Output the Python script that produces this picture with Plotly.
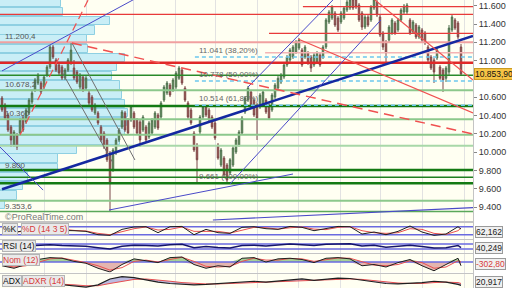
import numpy as np
import plotly.graph_objects as go

# ---------------- price data (daily candles, x = trading-day index) ----------------
opens = [10592,10516,10407,10276,10079,10189,10210,10374,10331,10429,10549,10680,10756,10756,10712,10843,10931,11149,11007,10953,
         10931,10811,10898,10974,10920,10876,10712,10822,10701,10647,10603,10429,10429,10276,10210,10134,9992,9806,9992,10134,
         10276,10429,10352,10352,10429,10352,10331,10243,10276,10167,10210,10276,10407,10385,10570,10647,10734,10680,10712,10808,
         10898,10701,10538,10461,10210,10079,10221,10385,10494,10461,10385,10320,10079,9861,9937,9861,9774,9861,10003,10079,
         10210,10440,10570,10658,10570,10516,10494,10516,10570,10516,10461,10603,10701,10767,10822,10953,11007,11040,11094,11138,
         11116,11040,11084,11040,10953,10985,11062,11040,11149,11422,11465,11520,11465,11422,11465,11553,11575,11662,11662,11607,
         11520,11367,11476,11444,11575,11640,11476,11302,11204,11225,11302,11411,11335,11444,11531,11531,11444,11313,11389,11258,
         11335,11302,11149,11040,11007,11029,10931,10898,10808,10876,11335,11444,11411,11149]
highs = [10614,10538,10429,10298,10243,10210,10374,10396,10483,10592,10669,10811,10865,10778,10843,10953,11171,11171,11029,10974,
         10953,10920,11029,11193,11007,10898,10865,10843,10832,10669,10625,10538,10450,10298,10232,10156,10014,10047,10156,10265,
         10461,10450,10374,10516,10450,10374,10352,10407,10298,10341,10374,10450,10429,10560,10734,10778,10756,10811,10887,10942,
         10920,10723,10560,10483,10232,10101,10407,10516,10516,10483,10407,10341,10101,10047,9959,9883,9937,10069,10156,10243,
         10396,10614,10723,10680,10592,10538,10647,10680,10592,10538,10647,10756,10832,10865,10974,11062,11138,11171,11225,11247,
         11138,11171,11105,11062,11084,11105,11084,11171,11465,11553,11607,11542,11487,11542,11596,11670,11700,11700,11690,11629,
         11542,11498,11498,11607,11720,11690,11498,11324,11225,11389,11465,11433,11465,11575,11618,11629,11465,11444,11411,11389,
         11356,11324,11171,11062,11029,11138,10953,10920,10942,11389,11498,11465,11433,11182]
lows = [10440,10352,10221,10058,10058,10025,10189,10221,10309,10407,10527,10658,10734,10636,10690,10822,10909,11018,10876,10843,
        10789,10789,10876,10953,10789,10745,10690,10658,10680,10516,10440,10407,10298,10112,10036,9894,9354,9785,9970,10112,
        10254,10221,10189,10331,10254,10189,10058,10221,10112,10145,10189,10254,10243,10363,10549,10625,10603,10658,10690,10789,
        10734,10549,10363,10298,10003,9675,10199,10363,10385,10331,10254,10134,9918,9839,9730,9661,9752,9839,9981,10058,
        10189,10418,10549,10494,10385,10134,10472,10494,10418,10352,10440,10581,10680,10745,10800,10931,10985,11018,11073,11116,
        10931,11018,10953,10876,10931,10963,10931,11018,11127,11400,11444,11367,11313,11400,11444,11531,11553,11553,11564,11422,
        11335,11345,11367,11422,11553,11476,11258,11116,10985,11204,11280,11280,11313,11422,11509,11509,11280,11291,11236,11236,
        11204,11171,10985,10898,10756,11007,10789,10658,10767,10843,11313,11335,11236,10843]
closes = [10461,10374,10243,10134,10221,10058,10352,10243,10461,10570,10647,10789,10843,10658,10822,10931,11149,11040,10898,10865,
          10811,10898,11007,11116,10811,10767,10843,10680,10811,10538,10461,10516,10320,10134,10058,9918,9675,10025,10134,10243,
          10440,10243,10210,10494,10276,10210,10134,10385,10134,10320,10352,10429,10265,10538,10712,10756,10625,10789,10865,10920,
          10756,10570,10385,10320,10025,9918,10385,10494,10407,10352,10276,10156,9937,10025,9752,9697,9918,10047,10134,10221,
          10374,10592,10701,10516,10407,10374,10625,10658,10440,10374,10625,10734,10808,10843,10953,11040,11116,11149,11204,11225,
          10953,11149,10974,10920,11062,11084,10953,11149,11444,11531,11586,11389,11335,11520,11575,11640,11662,11575,11586,11444,
          11367,11476,11389,11586,11662,11498,11280,11149,11084,11367,11444,11302,11444,11553,11596,11607,11302,11422,11258,11367,
          11225,11193,11007,10920,10876,11116,10808,10789,10920,11356,11476,11356,11258,10853.9]
days = list(range(len(closes)))

# month separators (trading-day index)
month_starts = [14.3, 28.3, 43.7, 57.7, 71.3, 85.3, 98.7, 112.7, 126.3, 140, 154]
# 10.800 is hidden behind the last-price box in the reference
price_ticks = [9400, 9600, 9800, 10000, 10200, 10400, 10600, 11000, 11200, 11400, 11600]

# volume-by-price profile
profile_price = [11630, 11530, 11430, 11330, 11230, 11130, 11030, 10930, 10830, 10730, 10630, 10530,
                 10430, 10330, 10230, 10130, 10030, 9930, 9830, 9730, 9630, 9530, 9430]
profile_vol = [61, 63, 110, 95, 87, 88, 125, 117, 112, 120, 122, 125, 128, 127, 125, 120, 77, 58, 58, 28, 23, 17, 5]
profile_label_price = [11200.4, 10678.2, 10360.0, 9800.0, 9353.6]
profile_label_text = ["11.200,4", "10.678,2", "10.360", "9.800", "9.353,6"]

# horizontal support / resistance levels
level_price = [11590, 11505, 11298, 11200.4, 11087, 10978, 10840, 10678.2, 10505, 10360, 10192, 10072,
               9806, 9727, 9661, 9471, 9353.6]
level_start = [100.3, -1, 89, -1, 87.7, -1, -1, -1, -1, -1, -1, -1, -1, -1, -1, -1, -1]

# Fibonacci retracement
fib_price = [11041, 10778, 10514]
fib_text = ["11.041 (38,20%)", "10.778 (50,00%)", "10.514 (61,80%)"]
fib_low_price = 9661
fib_low_text = "9.661 (100,00%)"
fib_start = 64.3

# trend lines (day index, price)
tl_x0 = [0, 0, 82, 76, 35.7, 70.3, -0.7, 23.3, 20, 6, 23.3, 98.7, 124.3]
tl_y0 = [9596, 10888, 10712, 9654, 9370, 9261, 10058, 11193, 10876, 10189, 11193, 11236, 11662]
tl_x1 = [157, 48, 115, 126.3, 97, 157, 13.7, 44.3, 37, 28.7, 157, 157, 157]
tl_y1 = [11269, 11740, 11820, 11444, 9763, 9397, 9588, 9916, 9883, 11662, 10199, 10429, 10789]

# indicators (sampled every 4 days + last day)
ind_days = [0, 4, 8, 12, 16, 20, 24, 28, 32, 36, 40, 44, 48, 52, 56, 60, 64, 68, 72, 76,
            80, 84, 88, 92, 96, 100, 104, 108, 112, 116, 120, 124, 128, 132, 136, 140, 144, 148, 152, 153]
stoch_k = [45, 35, 55, 70, 75, 52, 50, 45, 20, 15, 60, 78, 80, 35, 80, 82, 20, 60, 35, 30,
           75, 80, 65, 60, 82, 75, 50, 65, 82, 80, 25, 40, 20, 45, 85, 40, 15, 25, 80, 62.162]
stoch_d = [48, 40, 45, 60, 72, 62, 52, 48, 30, 20, 40, 65, 78, 55, 60, 78, 45, 45, 45, 32,
           55, 75, 72, 62, 72, 78, 62, 58, 75, 80, 50, 35, 30, 35, 65, 60, 30, 22, 50, 70]
rsi = [50, 45, 55, 60, 65, 58, 55, 52, 40, 30, 52, 60, 58, 55, 65, 68, 40, 50, 42, 38,
       58, 60, 55, 62, 70, 65, 58, 68, 70, 72, 55, 60, 45, 52, 60, 50, 38, 40, 58, 40.249]
mom = [-300, -500, -200, 200, 350, 300, 50, -100, -500, -800, -200, 250, 100, -50, 350, 400, -200, -500, -300, -400,
       300, 350, 0, 250, 300, 200, -50, 300, 350, 250, -300, -200, -400, -50, 200, -300, -700, -200, 300, -302.8]
mom_sig = [-250, -400, -300, 0, 250, 320, 150, -50, -300, -650, -450, 50, 150, 0, 200, 380, 50, -350, -400, -350,
           50, 300, 150, 150, 280, 250, 50, 200, 320, 300, 0, -250, -300, -200, 100, -50, -500, -400, 100, 0]
adx = [30, 28, 25, 24, 25, 22, 19, 17, 22, 35, 40, 38, 33, 28, 25, 24, 22, 23, 25, 27,
       28, 30, 28, 30, 33, 35, 32, 34, 37, 36, 32, 28, 25, 24, 25, 27, 30, 28, 23, 20.917]
adxr = [28, 28, 27, 26, 25, 24, 22, 20, 20, 25, 30, 34, 35, 33, 30, 27, 25, 24, 24, 25,
        26, 28, 29, 29, 30, 32, 33, 33, 35, 35, 34, 31, 28, 26, 25, 25, 27, 28, 27, 25]
stoch_levels = [20, 80]
rsi_levels = [30, 70]

# ---------------- styling ----------------
FONT = "Liberation Sans, Arial, sans-serif"
X_RANGE = [-0.67, 157]
PLOT_W = 473 / 512
BG = "#fffff2"
tl_color = ["#1428a0", "#4a4ac8", "#4a4ac8", "#4a4ac8", "#4a4ac8", "#4a4ac8", "#4a4ac8",
            "#6e6e6e", "#6e6e6e", "#f05050", "#f05050", "#f05050", "#f05050"]
tl_width = [2.5, 1, 1, 1, 1, 1.2, 1, 1, 1, 1.2, 1.5, 1.2, 1.2]
tl_dash = ["solid"] * 9 + ["8px,5px", "10px,6px", "solid", "solid"]
level_color = ["#e83a3a", "#e83a3a", "#e83a3a", "#f0a0a0", "#f4b4b4", "#e02828", "#2a8a2a", "#8cc88c",
               "#137a13", "#8cc88c", "#8cc88c", "#a8d8a8", "#137a13", "#1f7f1f", "#137a13", "#8cc88c", "#5aa85a"]
level_width = [1.2, 1.2, 1.2, 2, 1.5, 2.5, 1.5, 2, 2.5, 2, 2, 2, 2.5, 1.5, 2.5, 2, 1.5]

fig = go.Figure()

# volume profile (base x axis, pixel-like volume units)
fig.add_trace(go.Bar(orientation="h", y=profile_price, x=profile_vol, width=92, base=0,
                     marker=dict(color="#c9eef6", line=dict(color="#8fd0e2", width=1)),
                     xaxis="x", yaxis="y", showlegend=False, hoverinfo="skip"))

# candles on overlaying axis
fig.add_trace(go.Candlestick(x=days, open=opens, high=highs, low=lows, close=closes,
                             increasing=dict(line=dict(color="#4f6f4f", width=1), fillcolor="#6fae62"),
                             decreasing=dict(line=dict(color="#7a4848", width=1), fillcolor="#c0544f"),
                             xaxis="x2", yaxis="y", showlegend=False, hoverinfo="skip"))

# horizontal levels
for p, s, c, w in zip(level_price, level_start, level_color, level_width):
    fig.add_trace(go.Scatter(x=[s, X_RANGE[1]], y=[p, p], mode="lines", line=dict(color=c, width=w),
                             xaxis="x2", yaxis="y", showlegend=False, hoverinfo="skip"))
# fibonacci dashed levels
for p in fib_price:
    fig.add_trace(go.Scatter(x=[fib_start, X_RANGE[1]], y=[p, p], mode="lines",
                             line=dict(color="#6cc8ee", width=1.5, dash="4px,3px"),
                             xaxis="x2", yaxis="y", showlegend=False, hoverinfo="skip"))
# trend lines
for x0, y0, x1, y1, c, w, d in zip(tl_x0, tl_y0, tl_x1, tl_y1, tl_color, tl_width, tl_dash):
    fig.add_trace(go.Scatter(x=[x0, x1], y=[y0, y1], mode="lines", line=dict(color=c, width=w, dash=d),
                             xaxis="x2", yaxis="y", showlegend=False, hoverinfo="skip"))

# ---- stochastic ----
for lv in stoch_levels:
    fig.add_trace(go.Scatter(x=X_RANGE, y=[lv, lv], mode="lines", line=dict(color="#6a6ae0", width=1.5),
                             xaxis="x3", yaxis="y2", showlegend=False, hoverinfo="skip"))
fig.add_trace(go.Scatter(x=ind_days, y=stoch_d, mode="lines", line=dict(color="#e85050", width=1),
                         xaxis="x3", yaxis="y2", showlegend=False, hoverinfo="skip"))
fig.add_trace(go.Scatter(x=ind_days, y=stoch_k, mode="lines", line=dict(color="#202020", width=1),
                         xaxis="x3", yaxis="y2", showlegend=False, hoverinfo="skip"))
# ---- RSI ----
for lv in rsi_levels:
    fig.add_trace(go.Scatter(x=X_RANGE, y=[lv, lv], mode="lines", line=dict(color="#6a6ae0", width=1.5),
                             xaxis="x4", yaxis="y3", showlegend=False, hoverinfo="skip"))
fig.add_trace(go.Scatter(x=ind_days, y=rsi, mode="lines", line=dict(color="#14146a", width=1.5),
                         xaxis="x4", yaxis="y3", showlegend=False, hoverinfo="skip"))
# ---- Momentum ----
mom_arr = np.array(mom, dtype=float)
fig.add_trace(go.Scatter(x=ind_days, y=np.maximum(mom_arr, 0), mode="lines", line=dict(width=0),
                         fill="tozeroy", fillcolor="rgba(120,185,100,0.65)",
                         xaxis="x5", yaxis="y4", showlegend=False, hoverinfo="skip"))
fig.add_trace(go.Scatter(x=ind_days, y=np.minimum(mom_arr, 0), mode="lines", line=dict(width=0),
                         fill="tozeroy", fillcolor="rgba(205,120,120,0.55)",
                         xaxis="x5", yaxis="y4", showlegend=False, hoverinfo="skip"))
fig.add_trace(go.Scatter(x=X_RANGE, y=[0, 0], mode="lines", line=dict(color="#6a6ae0", width=1.5),
                         xaxis="x5", yaxis="y4", showlegend=False, hoverinfo="skip"))
fig.add_trace(go.Scatter(x=ind_days, y=mom_sig, mode="lines", line=dict(color="#e85050", width=1),
                         xaxis="x5", yaxis="y4", showlegend=False, hoverinfo="skip"))
fig.add_trace(go.Scatter(x=ind_days, y=mom, mode="lines", line=dict(color="#202020", width=1),
                         xaxis="x5", yaxis="y4", showlegend=False, hoverinfo="skip"))
# ---- ADX ----
fig.add_trace(go.Scatter(x=ind_days, y=adxr, mode="lines", line=dict(color="#e85050", width=1),
                         xaxis="x6", yaxis="y5", showlegend=False, hoverinfo="skip"))
fig.add_trace(go.Scatter(x=ind_days, y=adx, mode="lines", line=dict(color="#202020", width=1.2),
                         fill="tonexty", fillcolor="rgba(120,120,205,0.5)",
                         xaxis="x6", yaxis="y5", showlegend=False, hoverinfo="skip"))

# ---------------- layout ----------------
def ydom(top_px, bot_px):
    return [1 - bot_px / 288, 1 - top_px / 288]

sub_x = dict(domain=[0, PLOT_W], range=X_RANGE, tickvals=month_starts, showgrid=True, gridcolor="#e2e2e2",
             gridwidth=1, showticklabels=False, ticks="", zeroline=False, showline=True, linecolor="#c4c4c4",
             mirror=True)
sub_y = dict(showticklabels=False, ticks="", showgrid=False, zeroline=False, showline=True,
             linecolor="#c4c4c4", mirror=True)

fig.update_layout(
    width=512, height=288, margin=dict(l=0, r=0, t=0, b=0),
    paper_bgcolor="white", plot_bgcolor=BG, separators=",.",
    font=dict(family=FONT, size=9, color="#333333"),
    showlegend=False, bargap=0,
    xaxis=dict(domain=[0, PLOT_W], range=[0, 473], showgrid=False, showticklabels=False, ticks="",
               zeroline=False, showline=True, linecolor="#c4c4c4", mirror=True, anchor="y"),
    xaxis2=dict(domain=[0, PLOT_W], range=X_RANGE, overlaying="x", anchor="y", tickvals=month_starts,
                showgrid=True, gridcolor="#e2e2e2", showticklabels=False, ticks="", zeroline=False,
                rangeslider=dict(visible=False)),
    yaxis=dict(domain=ydom(0, 221), range=[9250, 11662], side="right", anchor="x", tickvals=price_ticks,
               tickformat=",d", ticks="outside", ticklen=3, tickcolor="#888", showgrid=False, zeroline=False,
               showline=True, linecolor="#c4c4c4", mirror=True,
               tickfont=dict(family=FONT, size=9, color="#333")),
    xaxis3=dict(anchor="y2", **sub_x),
    xaxis4=dict(anchor="y3", **sub_x),
    xaxis5=dict(anchor="y4", **sub_x),
    xaxis6=dict(anchor="y5", **sub_x),
    yaxis2=dict(domain=ydom(222.5, 238.5), range=[-8.5, 111.5], anchor="x3", **sub_y),
    yaxis3=dict(domain=ydom(239.5, 252.5), range=[2, 106], anchor="x4", **sub_y),
    yaxis4=dict(domain=ydom(253.5, 272.5), range=[-840, 680], anchor="x5", **sub_y),
    yaxis5=dict(domain=ydom(274, 288), range=[15, 46], anchor="x6", **sub_y),
)

ann = []
# volume-profile labels
for p, t in zip(profile_label_price, profile_label_text):
    ann.append(dict(x=3, y=p, xref="x", yref="y", text=t, showarrow=False, xanchor="left", yanchor="bottom",
                    yshift=-1, font=dict(size=8, color="#555")))
# fib labels
for p, t in zip(fib_price + [fib_low_price], fib_text + [fib_low_text]):
    ann.append(dict(x=fib_start + 0.6, y=p, xref="x2", yref="y", text=t, showarrow=False, xanchor="left",
                    yanchor="bottom", yshift=0, font=dict(size=8, color="#666")))
# watermark
ann.append(dict(x=3 / 512, y=1 - 217 / 288, xref="paper", yref="paper", text="©ProRealTime.com", showarrow=False,
                xanchor="left", yanchor="middle", font=dict(size=9, color="#777")))

# last price box
last_txt = f"{closes[-1]:,.2f}".replace(",", "X").replace(".", ",").replace("X", ".")
ann.append(dict(x=PLOT_W, y=closes[-1], xref="paper", yref="y", text=last_txt, showarrow=False,
                xanchor="left", xshift=1, yanchor="middle", bgcolor="#f6c445", bordercolor="#c99a22",
                borderwidth=1, borderpad=0, font=dict(size=8.5, color="#111")))

# panel label boxes
def box(xpx, ypx, text, color):
    return dict(x=xpx / 512, y=1 - ypx / 288, xref="paper", yref="paper", text=text, showarrow=False,
                xanchor="left", yanchor="middle", bgcolor="#e9e9e9", bordercolor="#b4b4b4", borderwidth=1,
                borderpad=0, font=dict(size=8.5, color=color))

ann += [box(2, 229, "%K", "#111"), box(21, 229, "%D (14 3 5)", "#d83a3a"),
        box(2, 245.5, "RSI (14)", "#111"), box(2, 259.5, "Nom (12)", "#d83a3a"),
        box(2, 281, "ADX", "#111"), box(22, 281, "ADXR (14)", "#d83a3a")]

# right-side indicator value boxes
def fmt(v, d):
    return f"{v:.{d}f}".replace(".", ",")

for txt, ypx, col in [(fmt(stoch_k[-1], 3), 232, "#222"), (fmt(rsi[-1], 3), 247.5, "#222"),
                      (fmt(mom[-1], 2), 264, "#d83a3a"), (fmt(adx[-1], 3), 281.5, "#222")]:
    ann.append(dict(x=PLOT_W, y=1 - ypx / 288, xref="paper", yref="paper", text=txt, showarrow=False,
                    xanchor="left", xshift=2, yanchor="middle", bgcolor="#f0f0f0", bordercolor="#9a9a9a",
                    borderwidth=1, borderpad=0, font=dict(size=8.5, color=col)))

fig.update_layout(annotations=ann)
fig.write_html("out.html")
